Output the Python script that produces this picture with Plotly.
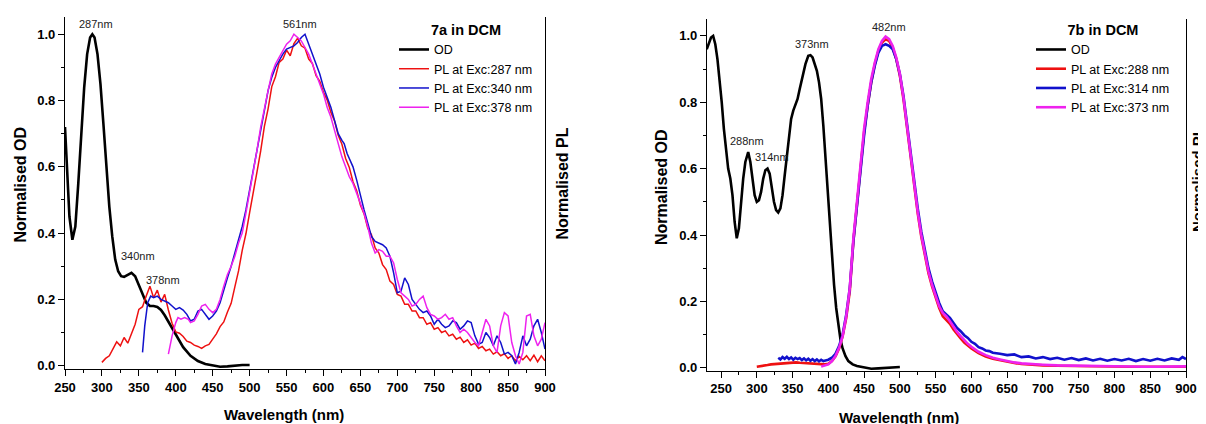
import plotly.graph_objects as go

W, H = 1206, 424
OFF = 8  # the page body margin shifts the figure by 8px in the window

# ---------------- 7a in DCM ----------------
od_a_nm = [250, 253, 256, 260, 264, 268, 272, 276, 280, 284, 287, 290, 294, 298, 302, 306, 310, 314, 318,
           322, 326, 330, 335, 340, 345, 350, 355, 360, 365, 370, 375, 380, 385, 390, 395, 400, 410, 420,
           430, 440, 450, 460, 470, 480, 490, 500]
od_a = [0.72, 0.58, 0.45, 0.38, 0.42, 0.55, 0.70, 0.84, 0.94, 0.99, 1.00, 0.99, 0.94, 0.85, 0.73, 0.60, 0.48,
        0.39, 0.32, 0.285, 0.27, 0.268, 0.275, 0.28, 0.27, 0.245, 0.215, 0.19, 0.18, 0.18, 0.177, 0.168, 0.152,
        0.133, 0.112, 0.092, 0.056, 0.03, 0.014, 0.005, 0.0, -0.003, -0.002, 0.001, 0.002, 0.002]

pl287_a_nm = list(range(300, 905, 5))
pl287_a = [0.010, 0.022, 0.030, 0.052, 0.072, 0.060, 0.085, 0.068, 0.098, 0.125, 0.170, 0.178, 0.210, 0.240,
           0.205, 0.228, 0.192, 0.215, 0.168, 0.128, 0.102, 0.098, 0.088, 0.074, 0.070, 0.062, 0.058, 0.052,
           0.060, 0.064, 0.080, 0.096, 0.118, 0.132, 0.162, 0.188, 0.238, 0.286, 0.348, 0.398, 0.462, 0.518,
           0.585, 0.648, 0.722, 0.775, 0.842, 0.872, 0.915, 0.925, 0.952, 0.935, 0.972, 0.988, 0.965, 0.958,
           0.925, 0.912, 0.875, 0.858, 0.825, 0.802, 0.765, 0.738, 0.695, 0.668, 0.625, 0.598, 0.555, 0.528,
           0.485, 0.458, 0.415, 0.395, 0.355, 0.340, 0.305, 0.290, 0.255, 0.245, 0.215, 0.210, 0.185, 0.185,
           0.165, 0.165, 0.145, 0.145, 0.125, 0.130, 0.110, 0.115, 0.100, 0.105, 0.090, 0.095, 0.080, 0.086,
           0.070, 0.078, 0.062, 0.068, 0.052, 0.058, 0.045, 0.050, 0.035, 0.042, 0.030, 0.036, 0.022, 0.030,
           0.015, 0.028, 0.018, 0.030, 0.015, 0.032, 0.012, 0.030, 0.015]

pl340_a_nm = [355, 358, 362, 366, 370, 375, 380, 385, 390, 395, 400, 405, 410, 415, 420, 425, 430, 435, 440,
              445, 450, 455, 460, 465, 470, 475, 480, 485, 490, 495, 500, 505, 510, 515, 520, 525, 530, 535,
              540, 545, 550, 555, 560, 565, 570, 575, 580, 585, 590, 595, 600, 605, 610, 615, 620, 625, 628,
              632, 640, 645, 650, 655, 660, 665, 670, 675, 680, 685, 690, 695, 700, 705, 710, 715, 720, 725,
              730, 735, 740, 745, 750, 755, 760, 765, 770, 775, 780, 785, 790, 795, 800, 805, 810, 815, 820,
              825, 830, 835, 840, 845, 850, 855, 860, 865, 870, 875, 880, 885, 890, 895, 900]
pl340_a = [0.04, 0.12, 0.19, 0.21, 0.205, 0.21, 0.20, 0.195, 0.19, 0.18, 0.17, 0.175, 0.168, 0.155, 0.135,
           0.14, 0.165, 0.17, 0.155, 0.14, 0.15, 0.165, 0.19, 0.23, 0.265, 0.30, 0.34, 0.38, 0.42, 0.47, 0.53,
           0.60, 0.66, 0.72, 0.78, 0.83, 0.87, 0.90, 0.92, 0.94, 0.955, 0.96, 0.965, 0.975, 0.99, 1.0, 0.97,
           0.94, 0.91, 0.88, 0.84, 0.81, 0.78, 0.74, 0.70, 0.68, 0.67, 0.64, 0.60, 0.56, 0.51, 0.47, 0.43,
           0.39, 0.375, 0.37, 0.365, 0.355, 0.33, 0.28, 0.22, 0.225, 0.265, 0.245, 0.20, 0.185, 0.17, 0.16,
           0.165, 0.15, 0.125, 0.14, 0.125, 0.115, 0.12, 0.135, 0.13, 0.11, 0.12, 0.135, 0.13, 0.09, 0.065,
           0.07, 0.10, 0.085, 0.06, 0.09, 0.07, 0.035, 0.04, 0.03, 0.005, 0.04, 0.09, 0.06, 0.08, 0.12, 0.14,
           0.10, 0.05]

pl378_a_nm = [390, 395, 400, 403, 407, 412, 417, 420, 425, 430, 435, 440, 445, 450, 455, 460, 465, 470, 475,
              480, 485, 490, 495, 500, 505, 510, 515, 520, 525, 530, 535, 540, 545, 550, 555, 560, 565, 570,
              575, 580, 585, 590, 595, 600, 605, 610, 615, 620, 625, 630, 635, 640, 645, 650, 655, 660, 665,
              670, 675, 680, 685, 690, 695, 700, 705, 710, 715, 720, 725, 730, 735, 740, 745, 750, 755, 760,
              765, 770, 775, 780, 785, 790, 795, 800, 805, 810, 815, 820, 825, 830, 835, 840, 845, 850, 855,
              860, 865, 870, 875, 880, 885, 890, 895, 900]
pl378_a = [0.035, 0.09, 0.13, 0.145, 0.14, 0.145, 0.14, 0.13, 0.135, 0.155, 0.18, 0.185, 0.17, 0.16, 0.17,
           0.20, 0.24, 0.275, 0.30, 0.33, 0.37, 0.40, 0.46, 0.52, 0.58, 0.65, 0.72, 0.78, 0.83, 0.88, 0.91,
           0.93, 0.95, 0.97, 0.98, 1.0, 0.99, 0.98, 0.96, 0.94, 0.91, 0.88, 0.85, 0.82, 0.78, 0.75, 0.71,
           0.67, 0.63, 0.60, 0.57, 0.55, 0.52, 0.49, 0.46, 0.42, 0.37, 0.34, 0.35, 0.345, 0.33, 0.33, 0.31,
           0.26, 0.22, 0.21, 0.20, 0.18, 0.185, 0.20, 0.21, 0.175, 0.155, 0.15, 0.14, 0.145, 0.155, 0.14,
           0.145, 0.12, 0.10, 0.11, 0.10, 0.085, 0.07, 0.06, 0.10, 0.14, 0.12, 0.06, 0.04, 0.12, 0.16, 0.15,
           0.07, 0.03, 0.005, 0.04, 0.15, 0.155, 0.09, 0.06, 0.08, 0.13]

# ---------------- 7b in DCM ----------------
od_b_nm = [230, 233, 236, 239, 242, 245, 248, 251, 254, 257, 260, 263, 266, 269, 272, 275, 278, 281, 284, 288,
           291, 294, 297, 300, 303, 306, 309, 312, 315, 318, 321, 324, 327, 330, 333, 336, 339, 342, 345, 348,
           351, 354, 357, 360, 364, 368, 372, 375, 378, 381, 384, 387, 390, 393, 396, 399, 402, 405, 408, 411,
           414, 417, 420, 424, 428, 434, 440, 450, 460, 470, 480, 490, 500]
od_b = [0.96, 0.98, 0.995, 1.0, 0.975, 0.93, 0.87, 0.80, 0.72, 0.65, 0.60, 0.57, 0.52, 0.44, 0.39, 0.42, 0.50,
        0.57, 0.62, 0.65, 0.62, 0.56, 0.52, 0.50, 0.505, 0.53, 0.57, 0.595, 0.60, 0.585, 0.54, 0.50, 0.475,
        0.468, 0.48, 0.52, 0.58, 0.64, 0.70, 0.75, 0.775, 0.79, 0.81, 0.84, 0.88, 0.915, 0.94, 0.942, 0.935,
        0.915, 0.895, 0.86, 0.81, 0.73, 0.63, 0.52, 0.42, 0.33, 0.25, 0.18, 0.125, 0.085, 0.058, 0.035, 0.02,
        0.01, 0.005, 0.0, -0.003, -0.002, 0.0, 0.002, 0.002]

pl288_b_nm = [300, 305, 310, 315, 320, 325, 330, 335, 340, 345, 350, 355, 360, 365, 370, 375, 380, 385, 390,
              395, 400, 405, 410, 415, 420, 425, 430, 435, 440, 445, 450, 455, 460, 465, 470, 475, 480, 485,
              490, 495, 500, 505, 510, 515, 520, 525, 530, 535, 540, 545, 550, 555, 560, 565, 570, 575, 580,
              585, 590, 595, 600, 610, 620, 630, 640, 650, 660, 670, 680, 690, 700, 720, 740, 760, 780, 800,
              820, 840, 860, 880, 900]
pl288_b = [0.003, 0.004, 0.006, 0.008, 0.010, 0.011, 0.012, 0.012, 0.013, 0.014, 0.016, 0.016, 0.015, 0.014,
           0.013, 0.012, 0.011, 0.010, 0.010, 0.010, 0.012, 0.02, 0.034, 0.058, 0.095, 0.15, 0.23, 0.38, 0.49,
           0.60, 0.71, 0.79, 0.86, 0.915, 0.955, 0.98, 0.99, 0.985, 0.965, 0.93, 0.88, 0.81, 0.725, 0.635,
           0.545, 0.465, 0.395, 0.335, 0.285, 0.245, 0.21, 0.18, 0.155, 0.145, 0.132, 0.115, 0.10, 0.088,
           0.076, 0.066, 0.058, 0.044, 0.034, 0.027, 0.022, 0.018, 0.014, 0.011, 0.009, 0.008, 0.007, 0.006,
           0.005, 0.004, 0.004, 0.003, 0.003, 0.003, 0.003, 0.003, 0.003]

pl314_b_nm = [330, 333, 336, 339, 342, 345, 348, 351, 354, 357, 360, 363, 366, 369, 372, 375, 378, 381, 384,
              387, 390, 393, 396, 400, 405, 410, 415, 420, 425, 430, 435, 440, 445, 450, 455, 460, 465, 470,
              475, 480, 485, 490, 495, 500, 505, 510, 515, 520, 525, 530, 535, 540, 545, 550, 555, 560, 565,
              570, 575, 580, 585, 590, 595, 600, 605, 610, 615, 620, 625, 630, 640, 650, 660, 670, 680, 690,
              700, 710, 720, 730, 740, 750, 760, 770, 780, 790, 800, 810, 820, 830, 840, 850, 860, 870, 880,
              890, 895, 900]
pl314_b = [0.03, 0.025, 0.032, 0.027, 0.033, 0.026, 0.031, 0.024, 0.030, 0.026, 0.029, 0.023, 0.028, 0.022,
           0.027, 0.021, 0.026, 0.020, 0.025, 0.019, 0.024, 0.020, 0.022, 0.024, 0.030, 0.042, 0.065, 0.10,
           0.16, 0.24, 0.38, 0.49, 0.60, 0.70, 0.79, 0.86, 0.91, 0.95, 0.97, 0.975, 0.97, 0.96, 0.93, 0.885,
           0.82, 0.735, 0.645, 0.56, 0.48, 0.41, 0.35, 0.30, 0.26, 0.225, 0.195, 0.17, 0.16, 0.15, 0.135,
           0.12, 0.11, 0.098, 0.09, 0.078, 0.072, 0.062, 0.058, 0.052, 0.05, 0.045, 0.042, 0.038, 0.04, 0.032,
           0.034, 0.028, 0.032, 0.026, 0.030, 0.024, 0.029, 0.023, 0.028, 0.022, 0.027, 0.021, 0.026, 0.022,
           0.027, 0.020, 0.026, 0.021, 0.027, 0.022, 0.028, 0.024, 0.032, 0.026]

pl373_b_nm = [390, 395, 400, 405, 410, 415, 420, 425, 430, 435, 440, 445, 450, 455, 460, 465, 470, 475, 480,
              485, 490, 495, 500, 505, 510, 515, 520, 525, 530, 535, 540, 545, 550, 555, 560, 565, 570, 575,
              580, 585, 590, 595, 600, 610, 620, 630, 640, 650, 660, 670, 680, 690, 700, 720, 740, 760, 780,
              800, 820, 840, 860, 880, 900]
pl373_b = [0.004, 0.006, 0.01, 0.02, 0.035, 0.06, 0.095, 0.155, 0.24, 0.39, 0.50, 0.61, 0.72, 0.80, 0.87,
           0.92, 0.96, 0.985, 0.998, 0.99, 0.97, 0.935, 0.885, 0.815, 0.73, 0.64, 0.55, 0.47, 0.40, 0.34,
           0.29, 0.25, 0.215, 0.185, 0.165, 0.155, 0.14, 0.122, 0.108, 0.095, 0.083, 0.072, 0.063, 0.048,
           0.038, 0.030, 0.025, 0.02, 0.016, 0.013, 0.011, 0.010, 0.009, 0.007, 0.006, 0.005, 0.005, 0.004,
           0.004, 0.003, 0.003, 0.003, 0.004]

# peak labels: (text, nm, value)
peaks_a = [("287nm", 292, 1.03), ("340nm", 349, 0.33), ("378nm", 383, 0.26), ("561nm", 568, 1.03)]
peaks_b = [("288nm", 287, 0.683), ("314nm", 321, 0.636), ("373nm", 377, 0.975), ("482nm", 485, 1.028)]

legend_a = ["OD", "PL at Exc:287 nm", "PL at Exc:340 nm", "PL at Exc:378 nm"]
legend_b = ["OD", "PL at Exc:288 nm", "PL at Exc:314 nm", "PL at Exc:373 nm"]
colors = ["#000000", "#ee1111", "#1111cc", "#ee22ee"]

FONT = "Liberation Sans, Arial, sans-serif"

fig = go.Figure()

series_a = [(od_a_nm, od_a), (pl287_a_nm, pl287_a), (pl340_a_nm, pl340_a), (pl378_a_nm, pl378_a)]
series_b = [(od_b_nm, od_b), (pl288_b_nm, pl288_b), (pl314_b_nm, pl314_b), (pl373_b_nm, pl373_b)]

for i, (xs, ys) in enumerate(series_a):
    fig.add_trace(go.Scatter(x=xs, y=ys, mode="lines", name=legend_a[i], legend="legend",
                             line=dict(color=colors[i], width=2.6 if i == 0 else 1.5),
                             xaxis="x", yaxis="y"))
for i, (xs, ys) in enumerate(series_b):
    fig.add_trace(go.Scatter(x=xs, y=ys, mode="lines", name=legend_b[i], legend="legend2",
                             line=dict(color=colors[i], width=2.6),
                             xaxis="x2", yaxis="y2"))


# window pixel -> paper fraction
def px(x):
    return (x - OFF) / W


def py(y):
    return 1 - (y - OFF) / H


tickfont = dict(family=FONT, size=13, color="black", weight="bold")
common_x = dict(showline=True, linecolor="black", linewidth=1.3, ticks="outside", ticklen=6, tickwidth=1.3,
                tickcolor="black", showgrid=False, zeroline=False, dtick=50, tickfont=tickfont,
                automargin=False,
                minor=dict(ticks="outside", ticklen=3, tickwidth=1.2, tickcolor="black", dtick=25,
                           showgrid=False))
common_y = dict(showline=True, mirror=True, linecolor="black", linewidth=1.3, ticks="outside", ticklen=6,
                tickwidth=1.3, tickcolor="black", showgrid=False, zeroline=False, tick0=0, dtick=0.2,
                tickformat=".1f", tickfont=tickfont, automargin=False,
                minor=dict(ticks="outside", ticklen=3, tickwidth=1.2, tickcolor="black", dtick=0.1,
                           showgrid=False))

legend_common = dict(xanchor="left", yanchor="top", bgcolor="rgba(0,0,0,0)",
                     font=dict(family=FONT, size=12.5), tracegroupgap=0, itemwidth=30)

fig.update_layout(
    width=W, height=H, margin=dict(l=0, r=0, t=0, b=0, autoexpand=False),
    paper_bgcolor="white", plot_bgcolor="white",
    font=dict(family=FONT, color="black"),
    xaxis=dict(domain=[px(65), px(545)], range=[250, 900], anchor="y", **common_x),
    yaxis=dict(domain=[py(369), py(17)], range=[-0.01, 1.052], anchor="x", **common_y),
    xaxis2=dict(domain=[px(707), px(1186)], range=[230.4, 900], anchor="y2", **common_x),
    yaxis2=dict(domain=[py(370.7), py(19)], range=[-0.009, 1.051], anchor="x2", **common_y),
    legend=dict(x=px(394), y=py(16),
                title=dict(text="<b>7a in DCM</b>", side="top center", font=dict(family=FONT, size=14.5)),
                **legend_common),
    legend2=dict(x=px(1031), y=py(16),
                 title=dict(text="<b>7b in DCM</b>", side="top center", font=dict(family=FONT, size=14.5)),
                 **legend_common),
)

annotations = []
for text, xv, yv in peaks_a:
    annotations.append(dict(text=text, x=xv, y=yv, xref="x", yref="y", showarrow=False,
                            font=dict(family=FONT, size=11, color="#222")))
for text, xv, yv in peaks_b:
    annotations.append(dict(text=text, x=xv, y=yv, xref="x2", yref="y2", showarrow=False,
                            font=dict(family=FONT, size=11, color="#222")))

title_font = dict(family=FONT, color="black", weight="bold")
for text, tx, ty, ang, size in [("Normalised OD", 20, 184.5, -90, 16), ("Normalised PL", 561.5, 184, -90, 16),
                                ("Normalised OD", 661, 187, -90, 16), ("Normalised PL", 1197, 180, -90, 15),
                                ("Wavelength (nm)", 283.5, 414, 0, 15), ("Wavelength (nm)", 898.8, 417, 0, 15)]:
    annotations.append(dict(text=text, x=px(tx), y=py(ty), xref="paper", yref="paper", showarrow=False,
                            textangle=ang, xanchor="center", yanchor="middle",
                            font=dict(title_font, size=size)))

fig.update_layout(annotations=annotations)

fig.write_html("out.html")
